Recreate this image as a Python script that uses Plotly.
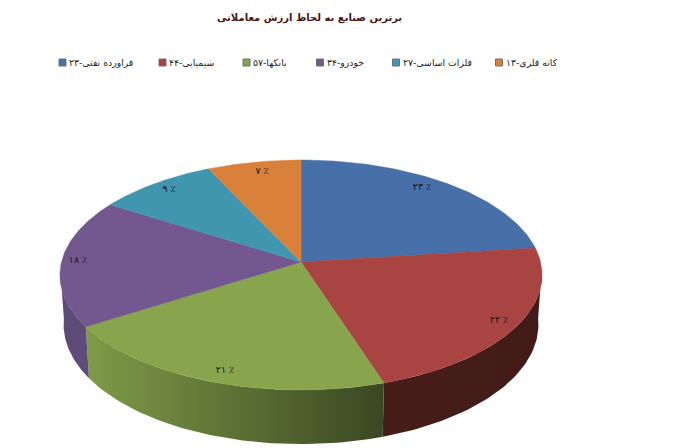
import numpy as np
import plotly.graph_objects as go

title = "برترین صنایع به لحاظ ارزش معاملاتی"
legend_labels = ["فراورده نفتی-۲۳", "شیمیایی-۴۴", "بانکها-۵۷", "خودرو-۳۴", "فلزات اساسی-۲۷", "کانه فلزی-۱۳"]
percent_labels = ["۲۳ ٪", "۲۲ ٪", "۲۱ ٪", "۱۸ ٪", "۹ ٪", "۷ ٪"]
values = [23, 22, 21, 18, 9, 7]
top_colors = ["#4670A7", "#A84442", "#88A44D", "#72588F", "#4096AF", "#D9813B"]
side_stops = [
    ["#2f4a70", "#2f4a70"],
    ["#471d19", "#421b18"],
    ["#7f9b48", "#3a4721"],
    ["#5c4a76", "#5f4c7a"],
    ["#2a6475", "#2a6475"],
    ["#91562a", "#91562a"],
]
legend_x = [62.5, 162.5, 246.5, 320, 396, 499]
legend_y = 62.5
label_pos = [(422, 188), (499, 321), (225, 371), (78, 261), (169, 190), (262, 172)]

# projection of the tilted pie
CX, CY, A, B, P = 301, 262, 239.5, 113.5, 0.113
DEPTH, BOTTOM_SX, BOTTOM_SY = 49, 0.985, 1.04


def project(theta):
    d = 1 + P * np.cos(theta)
    return CX + A * np.sin(theta) / d, CY - B * np.cos(theta) / d


fig = go.Figure()
total = sum(values)
edges = np.concatenate([[0], np.cumsum(values)]) / total * 2 * np.pi

# sides (only the near half is visible)
for i in range(len(values)):
    lo, hi = max(edges[i], np.pi * 0.52), min(edges[i + 1], np.pi * 1.48)
    if hi <= lo:
        continue
    t = np.linspace(lo, hi, 60)
    x, y = project(t)
    xb = CX + (x - CX) * BOTTOM_SX
    yb = CY + (y - CY) * BOTTOM_SY + DEPTH
    fig.add_trace(go.Scatter(
        x=np.concatenate([x, xb[::-1]]), y=np.concatenate([y, yb[::-1]]),
        mode="lines", fill="toself", line=dict(width=0), hoverinfo="skip", showlegend=False,
        fillgradient=dict(type="horizontal", colorscale=[[0, side_stops[i][0]], [1, side_stops[i][1]]]),
    ))

# top faces
for i in range(len(values)):
    t = np.linspace(edges[i], edges[i + 1], 90)
    x, y = project(t)
    fig.add_trace(go.Scatter(
        x=np.concatenate([[CX], x, [CX]]), y=np.concatenate([[CY], y, [CY]]),
        mode="lines", fill="toself", fillcolor=top_colors[i], line=dict(width=0.5, color=top_colors[i]),
        hoverinfo="skip", showlegend=False,
    ))

# slice labels
fig.add_trace(go.Scatter(
    x=[p[0] for p in label_pos], y=[p[1] for p in label_pos], mode="text", text=percent_labels,
    textfont=dict(family="DejaVu Sans", size=9.5, color="#141414"), hoverinfo="skip", showlegend=False,
))

# legend
fig.add_trace(go.Scatter(
    x=legend_x, y=[legend_y] * len(legend_x), mode="markers",
    marker=dict(symbol="square", size=7, color=top_colors, line=dict(width=1, color="#707070")),
    hoverinfo="skip", showlegend=False,
))
for lx, text in zip(legend_x, legend_labels):
    fig.add_annotation(x=lx + 4.5, y=legend_y, text=text, showarrow=False, xanchor="left",
                       font=dict(family="DejaVu Sans", size=9.3, color="#222222"))

fig.add_annotation(x=309, y=18, text="<b>" + title + "</b>", showarrow=False,
                   font=dict(family="DejaVu Sans", size=10, color="#4b1512"))

fig.update_layout(
    width=673, height=448, margin=dict(l=0, r=0, t=0, b=0),
    paper_bgcolor="white", plot_bgcolor="white", showlegend=False,
    xaxis=dict(range=[0, 673], visible=False, fixedrange=True),
    yaxis=dict(range=[448, 0], visible=False, fixedrange=True),
)
fig.write_html("out.html", config={"displayModeBar": False},
               post_script="document.body.style.margin='0';document.body.style.overflow='hidden';")
